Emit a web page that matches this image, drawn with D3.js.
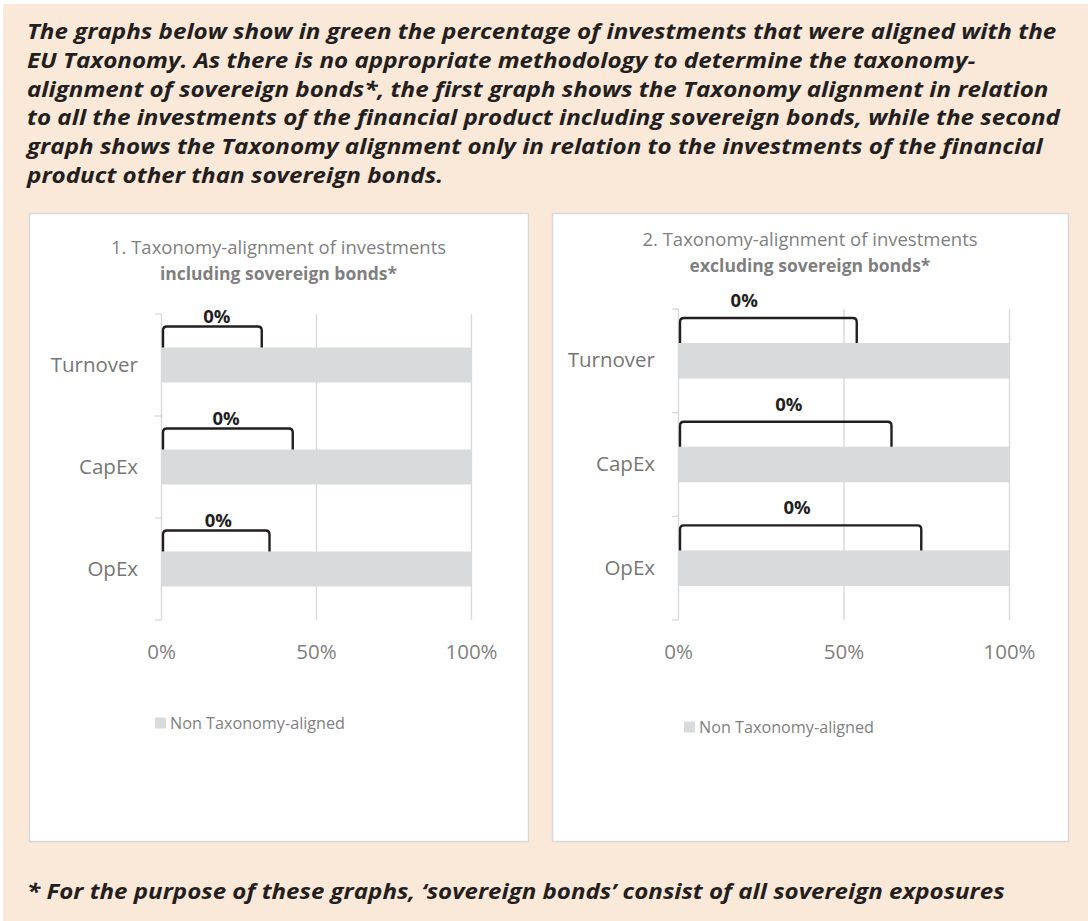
<!DOCTYPE html>
<html>
<head>
<meta charset="utf-8">
<script src="https://cdn.jsdelivr.net/npm/d3@7"></script>
<style>
    body { margin: 0; background: #ffffff; }
</style>
</head>
<body>
<div id="page"></div>
<script>
// ---- data ----
let categories = ["Turnover", "CapEx", "OpEx"];
let nonAlignedIncl = [100, 100, 100];
let nonAlignedExcl = [100, 100, 100];
let alignedLabelsIncl = ["0%", "0%", "0%"];
let alignedLabelsExcl = ["0%", "0%", "0%"];
// the "0%" callout brackets: where they end and where the label sits (% of axis)
let calloutEndIncl = [32.5, 42.5, 35];
let calloutEndExcl = [54, 64.5, 73.5];
let labelAtIncl = [18, 21, 18.5];
let labelAtExcl = [20, 33.5, 36];
let xTicks = [0, 50, 100];
let legendLabel = "Non Taxonomy-aligned";
let titleIncl = ["1. Taxonomy-alignment of investments", "including sovereign bonds*"];
let titleExcl = ["2. Taxonomy-alignment of investments", "excluding sovereign bonds*"];
let headerLines = [
    "The graphs below show in green the percentage of investments that were aligned with the",
    "EU Taxonomy. As there is no appropriate methodology to determine the taxonomy-",
    "alignment of sovereign bonds*, the first graph shows the Taxonomy alignment in relation",
    "to all the investments of the financial product including sovereign bonds, while the second",
    "graph shows the Taxonomy alignment only in relation to the investments of the financial",
    "product other than sovereign bonds."
];
let footnote = "* For the purpose of these graphs, \u2018sovereign bonds\u2019 consist of all sovereign exposures";


class TaxonomyBarVis {
    constructor(svg, box, data) {
        this.svg = svg;
        this.box = box;
        this.data = data;
    }

    initVis() {
        let vis = this;
        let b = vis.box;

        vis.g = vis.svg.append("g")
            .attr("transform", "translate(" + b.x + "," + b.y + ")");

        vis.g.append("rect")
            .attr("x", 0.5)
            .attr("y", 0.5)
            .attr("width", b.w)
            .attr("height", b.h)
            .attr("fill", "#ffffff")
            .attr("stroke", "#d9d9d9")
            .attr("stroke-width", 1.5);

        vis.g.selectAll(".title")
            .data(vis.data.title)
            .enter()
            .append("text")
            .attr("class", "title")
            .attr("x", b.w / 2)
            .attr("y", (d, i) => b.titleY + i * 25.5)
            .attr("text-anchor", "middle")
            .attr("font-size", (d, i) => i === 1 ? 17.5 : 18.5)
            .attr("font-weight", (d, i) => i === 1 ? 700 : 400)
            .attr("fill", "#7f7f7f")
            .text(d => d);

        vis.x = d3.scaleLinear()
            .domain([0, 100])
            .range([b.left, b.right]);

        vis.y = d3.scaleBand()
            .domain(categories)
            .range([b.top, b.bottom])
            .paddingInner(0.657)
            .paddingOuter(0.3285);

        vis.wrangleData();
    }

    wrangleData() {
        let vis = this;
        vis.displayData = categories.map((c, i) => ({
            category: c,
            value: vis.data.values[i],
            label: vis.data.labels[i],
            calloutEnd: vis.data.calloutEnd[i],
            labelAt: vis.data.labelAt[i]
        }));
        vis.updateVis();
    }

    updateVis() {
        let vis = this;
        let b = vis.box;
        let plotH = b.bottom - b.top;

        // x axis with full-height gridlines
        let xAxis = vis.g.append("g")
            .attr("transform", "translate(0," + b.bottom + ")")
            .call(d3.axisBottom(vis.x)
                .tickValues(xTicks)
                .tickFormat(d => d + "%")
                .tickSize(-plotH)
                .tickPadding(24));
        xAxis.select(".domain").remove();
        xAxis.selectAll("line")
            .attr("stroke", "#d9d9d9")
            .attr("stroke-width", 1.4);
        xAxis.selectAll("text")
            .attr("font-family", "Open Sans, sans-serif")
            .attr("font-size", 20.5)
            .attr("fill", "#7f7f7f");

        // small ticks at the category boundaries
        let step = vis.y.step();
        let edges = d3.range(categories.length + 1)
            .map(k => vis.y(categories[0]) - step * vis.y.paddingInner() / 2 + k * step);
        vis.g.selectAll(".edge-tick")
            .data(edges)
            .enter()
            .append("line")
            .attr("class", "edge-tick")
            .attr("x1", vis.x(0) - 6)
            .attr("x2", vis.x(0))
            .attr("y1", d => d)
            .attr("y2", d => d)
            .attr("stroke", "#d9d9d9")
            .attr("stroke-width", 1.4);

        // category labels
        let yAxis = vis.g.append("g")
            .attr("transform", "translate(" + vis.x(0) + ",0)")
            .call(d3.axisLeft(vis.y).tickSize(0).tickPadding(23));
        yAxis.select(".domain").remove();
        yAxis.selectAll("text")
            .attr("font-family", "Open Sans, sans-serif")
            .attr("font-size", 20.5)
            .attr("fill", "#767676");

        // bars
        vis.g.selectAll(".bar")
            .data(vis.displayData)
            .enter()
            .append("rect")
            .attr("class", "bar")
            .attr("x", vis.x(0))
            .attr("y", d => vis.y(d.category))
            .attr("width", d => vis.x(d.value) - vis.x(0))
            .attr("height", vis.y.bandwidth())
            .attr("fill", "#d9dadb");

        // callout brackets
        let r = 4;
        vis.g.selectAll(".callout")
            .data(vis.displayData)
            .enter()
            .append("path")
            .attr("class", "callout")
            .attr("d", d => {
                let y0 = vis.y(d.category);
                let top = y0 - b.calloutH;
                let x0 = vis.x(0) + 2;
                let x1 = vis.x(d.calloutEnd);
                return "M" + x0 + "," + y0 +
                    "L" + x0 + "," + (top + r) +
                    "Q" + x0 + "," + top + " " + (x0 + r) + "," + top +
                    "L" + (x1 - r) + "," + top +
                    "Q" + x1 + "," + top + " " + x1 + "," + (top + r) +
                    "L" + x1 + "," + y0;
            })
            .attr("fill", "none")
            .attr("stroke", "#231f20")
            .attr("stroke-width", 2.4);

        vis.g.selectAll(".callout-label")
            .data(vis.displayData)
            .enter()
            .append("text")
            .attr("class", "callout-label")
            .attr("x", d => vis.x(d.labelAt))
            .attr("y", d => vis.y(d.category) - b.calloutH - b.labelGap)
            .attr("text-anchor", "middle")
            .attr("font-size", 18.5)
            .attr("font-weight", 700)
            .attr("fill", "#231f20")
            .text(d => d.label);

        // legend
        let lg = vis.g.append("g")
            .attr("transform", "translate(" + b.legendX + "," + b.legendY + ")");
        lg.append("rect")
            .attr("x", 0)
            .attr("y", -5.5)
            .attr("width", 11)
            .attr("height", 11)
            .attr("fill", "#d9dadb");
        lg.append("text")
            .attr("x", 15)
            .attr("dy", "0.35em")
            .attr("font-size", 16.2)
            .attr("fill", "#7f7f7f")
            .text(legendLabel);
    }
}


let svg = d3.select("#page").append("svg")
    .attr("width", 1090)
    .attr("height", 921)
    .attr("font-family", "Open Sans, sans-serif");

svg.append("rect")
    .attr("x", 3)
    .attr("y", 4)
    .attr("width", 1085)
    .attr("height", 917)
    .attr("fill", "#fae8d8");

// bold italic paragraph: fixed type size, stretched sideways so the
// first line spans the same width as in the original
function fitLines(lines, x, y0, lineH, size, targetW) {
    let g = svg.append("g");
    let t = g.selectAll("text")
        .data(lines)
        .enter()
        .append("text")
        .attr("x", 0)
        .attr("y", (d, i) => y0 + i * lineH)
        .attr("font-size", size)
        .attr("font-weight", 700)
        .attr("font-style", "italic")
        .attr("fill", "#231f20")
        .text(d => d);
    let w = t.node().getComputedTextLength();
    g.attr("transform", "translate(" + x + ",0) scale(" + (targetW / w) + ",1)");
}

fitLines(headerLines, 27, 39, 28.8, 21, 1030);
fitLines([footnote], 27, 899, 0, 21, 978);

let chartIncl = new TaxonomyBarVis(svg,
    {x: 29, y: 213, w: 499, h: 628, left: 132, right: 442, top: 101, bottom: 407,
     titleY: 41, calloutH: 21, labelGap: 4, legendX: 126, legendY: 510},
    {title: titleIncl, values: nonAlignedIncl, labels: alignedLabelsIncl,
     calloutEnd: calloutEndIncl, labelAt: labelAtIncl});
chartIncl.initVis();

let chartExcl = new TaxonomyBarVis(svg,
    {x: 552, y: 213, w: 516, h: 628, left: 126, right: 457, top: 96, bottom: 407,
     titleY: 33, calloutH: 25, labelGap: 11, legendX: 132, legendY: 514},
    {title: titleExcl, values: nonAlignedExcl, labels: alignedLabelsExcl,
     calloutEnd: calloutEndExcl, labelAt: labelAtExcl});
chartExcl.initVis();
</script>
</body>
</html>
